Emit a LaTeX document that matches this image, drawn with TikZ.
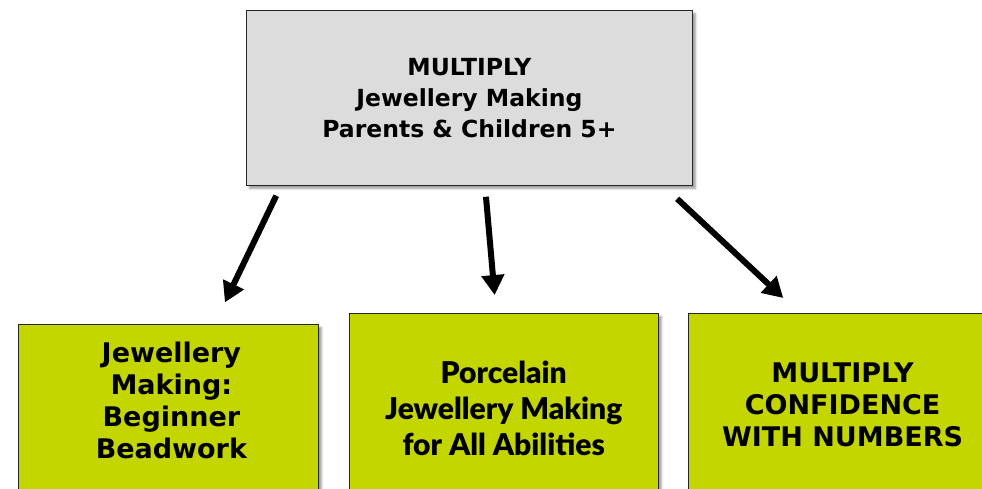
\documentclass[tikz,border=0pt]{standalone}
\usepackage{fontspec}
\setmainfont{DejaVu Sans}
\newfontfamily\gillfont{Lato}[BoldFont={Lato Black}]
\usetikzlibrary{positioning,arrows.meta,shadows.blur}
\definecolor{greyfill}{RGB}{220,220,220}
\definecolor{greenfill}{RGB}{196,214,0}
\tikzset{
  greybox/.style={draw=black!85, line width=0.8pt, fill=greyfill, blur shadow={shadow xshift=3pt, shadow yshift=-3pt}, minimum width=446pt, minimum height=175pt, inner sep=0pt, align=center, font=\bfseries\fontsize{23.5}{31}\selectfont},
  greenbox/.style={draw=black!85, line width=0.8pt, fill=greenfill, blur shadow={shadow xshift=3pt, shadow yshift=-3pt}, minimum height=220pt, inner sep=0pt},
  boxtext/.style={align=center, font=\bfseries\fontsize{27}{32}\selectfont},
  thickarrow/.style={-{Triangle[length=20pt,width=22pt]}, line width=6pt}
}

\begin{document}
\begin{tikzpicture}[x=1pt, y=-1pt]
\clip (0,0) rectangle (982,488);
\node[greybox, anchor=north west] (top) at (246,10) {MULTIPLY\\Jewellery Making\\Parents \& Children 5+};
\node[greenbox, minimum width=300pt, anchor=north west] (begin) at (18,324) {};
\node[greenbox, minimum width=309pt, right=30pt of begin.north east, anchor=north west, yshift=11pt] (porc) {};
\node[greenbox, minimum width=330pt, right=29pt of porc.north east, anchor=north west] (conf) {};
\node[boxtext] (begintxt) at ([xshift=3pt, yshift=-76pt]begin.north) {Jewellery\\Making:\\Beginner\\Beadwork};
\node[boxtext, font=\gillfont\bfseries\fontsize{30}{36}\selectfont] (porctxt) at ([yshift=-95pt]porc.north) {Porcelain\\Jewellery Making\\for All Abilities};
\node[boxtext] (conftxt) at ([yshift=-92pt]conf.north west) [xshift=155pt] {MULTIPLY\\CONFIDENCE\\WITH NUMBERS};
\draw[thickarrow, shorten <=11pt, shorten >=24pt] ([xshift=35pt]top.south west) -- ([xshift=196.5pt]begin.north west);
\draw[thickarrow, shorten <=11pt, shorten >=18pt] ([xshift=239pt]top.south west) -- ([xshift=147.4pt]porc.north west);
\draw[thickarrow, shorten <=19pt, shorten >=22pt] ([xshift=417.3pt]top.south west) -- ([xshift=111.7pt]conf.north west);
\end{tikzpicture}
\end{document}
